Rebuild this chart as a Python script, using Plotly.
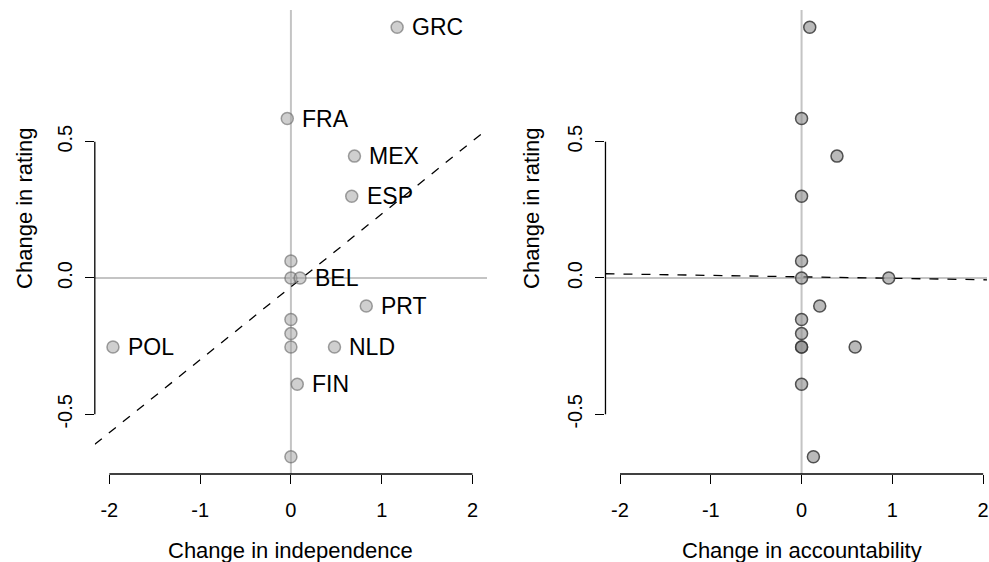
import numpy as np
import plotly.graph_objects as go

# ---- data ----
countries = ["GRC", "FRA", "MEX", "ESP", "", "", "BEL", "PRT", "", "", "", "POL", "NLD", "FIN", ""]
rating = [0.92, 0.585, 0.447, 0.30, 0.062, 0.0, 0.0, -0.103, -0.152, -0.204, -0.253, -0.253, -0.253, -0.39, -0.656]
independence = [1.17, -0.04, 0.70, 0.67, 0.0, 0.0, 0.10, 0.83, 0.0, 0.0, 0.0, -1.96, 0.48, 0.07, 0.0]
accountability = [0.09, 0.0, 0.39, 0.0, 0.0, 0.0, 0.96, 0.20, 0.0, 0.0, 0.0, 0.0, 0.59, 0.0, 0.13]

x_ticks = [-2, -1, 0, 1, 2]
x_ticktext = ["-2", "-1", "0", "1", "2"]
y_ticks = [-0.5, 0.0, 0.5]
y_ticktext = ["-0.5", "0.0", "0.5"]
x_titles = ["Change in independence", "Change in accountability"]
y_title = "Change in rating"

W, H = 989, 562
FONT = "Liberation Sans, Arial, Helvetica, sans-serif"

# layout geometry (pixels)
left_dom = [95 / W, 488 / W]
right_dom = [606.7 / W, 1.0]
y_dom = [1 - 474 / H, 1 - 10 / H]
xr_left = [-2.16, 2.16]
px_per_unit = (488 - 95) / (xr_left[1] - xr_left[0])
xr_right = [-2.16, -2.16 + (W - 606.7) / px_per_unit]
yr = [-0.719, 0.983]

fig = go.Figure()

panels = [
    dict(x=independence, xa="x", ya="y", xr=xr_left,
         fill="rgba(160,160,160,0.5)", line="rgba(100,100,100,0.6)", labels=True),
    dict(x=accountability, xa="x2", ya="y2", xr=xr_right,
         fill="rgba(140,140,140,0.6)", line="rgba(55,55,55,0.85)", labels=False),
]

for i, p in enumerate(panels):
    sfx = "" if i == 0 else "2"
    # zero reference lines
    fig.add_shape(type="line", xref=f"x{sfx}", yref=f"y{sfx} domain", x0=0, x1=0, y0=0, y1=1,
                  line=dict(color="#c4c4c4", width=2), layer="below")
    fig.add_shape(type="line", xref=f"x{sfx} domain", yref=f"y{sfx}", x0=0, x1=1, y0=0, y1=0,
                  line=dict(color="#c4c4c4", width=2), layer="below")
    # regression line
    slope, intercept = np.polyfit(np.array(p["x"]), np.array(rating), 1)
    xs = np.array(p["xr"])
    fig.add_trace(go.Scatter(x=xs, y=intercept + slope * xs, mode="lines",
                             line=dict(color="black", width=1.3, dash="dash"),
                             xaxis=p["xa"], yaxis=p["ya"], showlegend=False, hoverinfo="skip"))
    # points
    fig.add_trace(go.Scatter(x=p["x"], y=rating, mode="markers",
                             marker=dict(size=12, color=p["fill"], line=dict(color=p["line"], width=1.5)),
                             xaxis=p["xa"], yaxis=p["ya"], showlegend=False, cliponaxis=False))
    # axis lines (R style: span the tick range only)
    fig.add_shape(type="line", xref=f"x{sfx}", yref=f"y{sfx} domain", x0=x_ticks[0], x1=x_ticks[-1],
                  y0=0, y1=0, line=dict(color="black", width=1.3))
    fig.add_shape(type="line", xref=f"x{sfx} domain", yref=f"y{sfx}", x0=0, x1=0,
                  y0=y_ticks[0], y1=y_ticks[-1], line=dict(color="black", width=1.3))
    # axis titles
    fig.add_annotation(text=x_titles[i], xref=f"x{sfx}", yref="paper", x=0, y=1 - 550 / H,
                       showarrow=False, xanchor="center", yanchor="middle",
                       font=dict(family=FONT, size=22, color="black"))
    ytx = 25 if i == 0 else 533
    fig.add_annotation(text=y_title, xref="paper", yref="paper", x=ytx / W, y=1 - 208 / H,
                       showarrow=False, xanchor="center", yanchor="middle", textangle=-90,
                       font=dict(family=FONT, size=22, color="black"))
    # country labels
    if p["labels"]:
        for xv, yv, name in zip(p["x"], rating, countries):
            if name:
                fig.add_annotation(text=name, x=xv, y=yv, xref=p["xa"], yref=p["ya"],
                                   showarrow=False, xanchor="left", yanchor="middle", xshift=13,
                                   font=dict(family=FONT, size=23, color="black"))

axis_common = dict(showgrid=False, zeroline=False, showline=False, ticks="outside",
                   ticklen=9, tickwidth=1.3, tickcolor="black", ticklabeloverflow="allow",
                   tickfont=dict(family=FONT, size=20, color="black"))

fig.update_layout(
    width=W, height=H, margin=dict(l=0, r=0, t=0, b=0),
    plot_bgcolor="white", paper_bgcolor="white", showlegend=False,
    xaxis=dict(domain=left_dom, range=xr_left, anchor="y", tickvals=x_ticks, ticktext=x_ticktext,
               ticklabelstandoff=9, **axis_common),
    yaxis=dict(domain=y_dom, range=yr, anchor="x", tickvals=y_ticks, ticktext=y_ticktext,
               tickangle=-90, ticklabelstandoff=5, **axis_common),
    xaxis2=dict(domain=right_dom, range=xr_right, anchor="y2", tickvals=x_ticks, ticktext=x_ticktext,
                ticklabelstandoff=9, **axis_common),
    yaxis2=dict(domain=y_dom, range=yr, anchor="x2", tickvals=y_ticks, ticktext=y_ticktext,
                tickangle=-90, ticklabelstandoff=5, **axis_common),
)

fig.write_html("out.html", config={"displayModeBar": False},
               post_script="document.body.style.margin='0';document.body.style.overflow='hidden';")
